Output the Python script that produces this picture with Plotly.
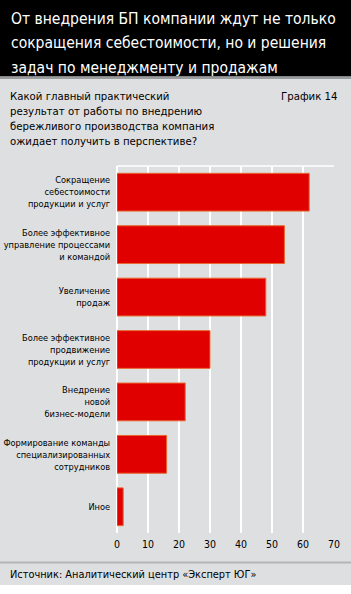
import plotly.graph_objects as go

categories = [
    "Сокращение<br>себестоимости<br>продукции и услуг",
    "Более эффективное<br>управление процессами<br>и командой",
    "Увеличение<br>продаж",
    "Более эффективное<br>продвижение<br>продукции и услуг",
    "Внедрение<br>новой<br>бизнес-модели",
    "Формирование команды<br>специализированных<br>сотрудников",
    "Иное",
]
values = [62, 54, 48, 30, 22, 16, 2]
x_ticks = [0, 10, 20, 30, 40, 50, 60, 70]

title_lines = ["От внедрения БП компании ждут не только",
               "сокращения себестоимости, но и решения",
               "задач по менеджменту и продажам"]
subtitle_lines = ["Какой главный практический",
                  "результат от работы по внедрению",
                  "бережливого производства компания",
                  "ожидает получить в перспективе?"]
chart_label = "График 14"
source = "Источник: Аналитический центр «Эксперт ЮГ»"

W, H = 351, 594
L, R, T, B = 117, 17, 166, 61
PW, PH = W - L - R, H - T - B
FONT = "DejaVu Sans Condensed, DejaVu Sans, sans-serif"
BG = "#DEDFE1"

def px(x):
    return (x - L) / PW

def py(y):
    return (H - B - y) / PH

fig = go.Figure(go.Bar(
    x=values, y=categories, orientation="h",
    marker=dict(color="#E00000", line=dict(color="#E8662E", width=1)),
    width=0.72, hoverinfo="skip",
))

shapes = [
    dict(type="rect", xref="paper", yref="paper", x0=px(0), x1=px(W), y0=py(0), y1=py(76.5),
         fillcolor="#000000", line_width=0, layer="below"),
    dict(type="rect", xref="paper", yref="paper", x0=px(0), x1=px(W), y0=py(76.5), y1=py(79),
         fillcolor="#9A9B9D", line_width=0, layer="below"),
    dict(type="rect", xref="paper", yref="paper", x0=px(0), x1=px(W), y0=py(561.5), y1=py(563.5),
         fillcolor="#B5B6B8", line_width=0, layer="below"),
    dict(type="rect", xref="paper", yref="paper", x0=px(0), x1=px(W), y0=py(585), y1=py(H),
         fillcolor="#FFFFFF", line_width=0, layer="below"),
    dict(type="line", xref="x", yref="paper", x0=0, x1=70, y0=1, y1=1,
         line=dict(color="#FFFFFF", width=1.5), layer="below"),
]

ann = []
for i, t in enumerate(title_lines):
    ann.append(dict(text=t, x=px(9), y=py(19 + i * 24.5), xref="paper", yref="paper",
                    xanchor="left", yanchor="middle", showarrow=False,
                    font=dict(family=FONT, size=15.5, color="#FFFFFF")))
for i, t in enumerate(subtitle_lines):
    ann.append(dict(text=t, x=px(8), y=py(96 + i * 15.2), xref="paper", yref="paper",
                    xanchor="left", yanchor="middle", showarrow=False,
                    font=dict(family=FONT, size=11.3, color="#000000")))
ann.append(dict(text=chart_label, x=px(339), y=py(96), xref="paper", yref="paper",
                xanchor="right", yanchor="middle", showarrow=False,
                font=dict(family=FONT, size=11.3, color="#000000")))
ann.append(dict(text=source, x=px(8), y=py(574.5), xref="paper", yref="paper",
                xanchor="left", yanchor="middle", showarrow=False,
                font=dict(family=FONT, size=10.9, color="#000000")))

fig.update_layout(
    width=W, height=H,
    margin=dict(l=L, r=R, t=T, b=B, pad=0),
    paper_bgcolor=BG, plot_bgcolor=BG,
    showlegend=False,
    shapes=shapes, annotations=ann,
    bargap=0.28,
    xaxis=dict(range=[0, 70], tickvals=x_ticks, showgrid=True, gridcolor="#FFFFFF", gridwidth=1.5,
               zeroline=True, zerolinecolor="#FFFFFF", zerolinewidth=1.5, showline=False,
               ticks="outside", ticklen=1, tickcolor=BG, automargin=False,
               tickfont=dict(family=FONT, size=10.5, color="#000000"), fixedrange=True),
    yaxis=dict(autorange=False, range=[6.5, -0.5], showgrid=False, zeroline=False, showline=False,
               ticks="outside", ticklen=4, tickcolor=BG, automargin=False,
               tickfont=dict(family=FONT, size=9.2, color="#000000"), fixedrange=True),
    font=dict(family=FONT),
)

fig.write_html("out.html", config={"displayModeBar": False})
